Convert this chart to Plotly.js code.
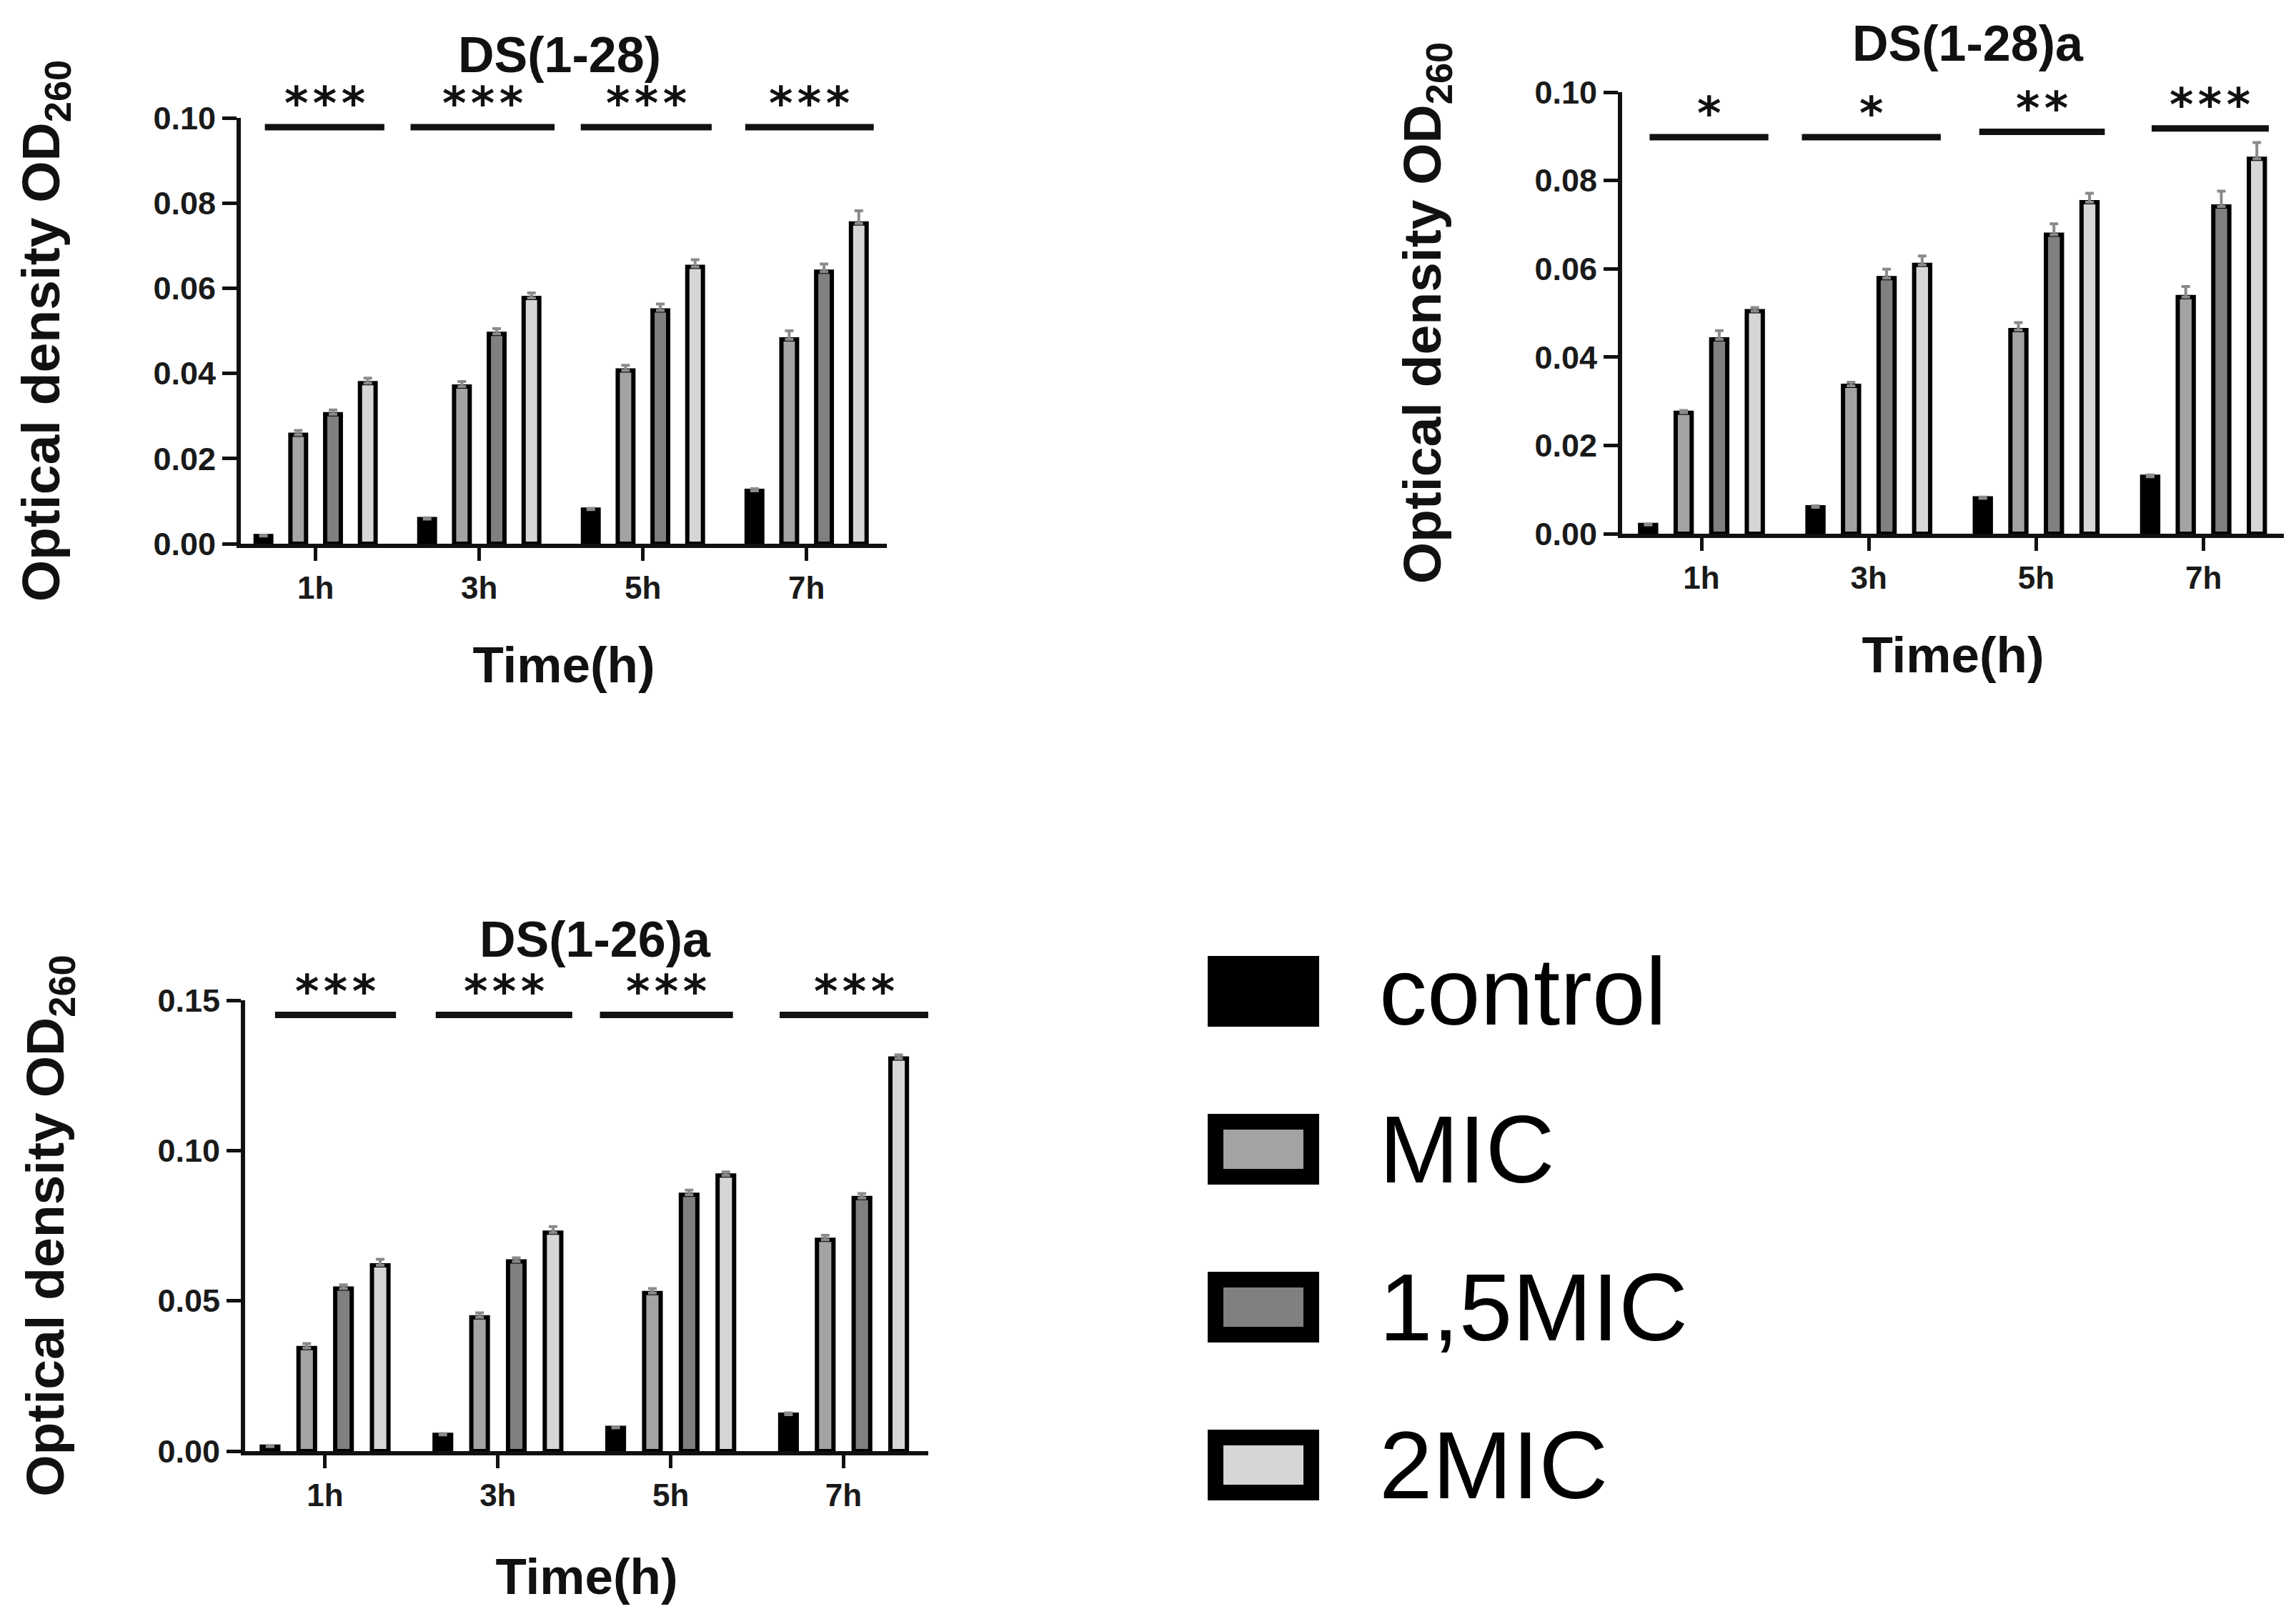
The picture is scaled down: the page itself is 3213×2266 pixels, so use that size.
<!DOCTYPE html>
<html>
<head>
<meta charset="utf-8">
<script src="https://cdn.plot.ly/plotly-3.0.1.min.js"></script>
<style>
html,body{margin:0;padding:0;background:#ffffff;}
#chart{width:3213px;height:2266px;}
</style>
</head>
<body>
<div id="chart"></div>
<script>
// ---------- data ----------
const timeLabels = ['1h', '3h', '5h', '7h'];
const seriesNames = ['control', 'MIC', '1,5MIC', '2MIC'];
const panelTitles = ['DS(1-28)', 'DS(1-28)a', 'DS(1-26)a'];

// DS(1-28)
const ds128Control = [0.0018, 0.0058, 0.0080, 0.0124];
const ds128Mic     = [0.0256, 0.0369, 0.0407, 0.0480];
const ds128Mic15   = [0.0304, 0.0493, 0.0548, 0.0639];
const ds128Mic2    = [0.0377, 0.0577, 0.0650, 0.0752];
const ds128ErrControl = [0.0002, 0.0003, 0.0003, 0.0005];
const ds128ErrMic     = [0.0010, 0.0012, 0.0012, 0.0020];
const ds128ErrMic15   = [0.0010, 0.0012, 0.0015, 0.0018];
const ds128ErrMic2    = [0.0012, 0.0012, 0.0017, 0.0030];
const ds128Sig = ['***', '***', '***', '***'];
const ds128SigY = [0.0978, 0.0978, 0.0978, 0.0978];
const ds128SigFrom = [-0.31, -0.42, -0.38, -0.375];
const ds128SigTo   = [0.42, 0.46, 0.42, 0.41];

// DS(1-28)a
const ds128aControl = [0.0020, 0.0060, 0.0080, 0.0129];
const ds128aMic     = [0.0274, 0.0335, 0.0461, 0.0536];
const ds128aMic15   = [0.0440, 0.0579, 0.0677, 0.0741];
const ds128aMic2    = [0.0504, 0.0609, 0.0751, 0.0849];
const ds128aErrControl = [0.0002, 0.0003, 0.0003, 0.0004];
const ds128aErrMic     = [0.0005, 0.0008, 0.0017, 0.0024];
const ds128aErrMic15   = [0.0020, 0.0020, 0.0025, 0.0035];
const ds128aErrMic2    = [0.0008, 0.0020, 0.0020, 0.0037];
const ds128aSig = ['*', '*', '**', '***'];
const ds128aSigY = [0.0898, 0.0898, 0.0910, 0.0918];
const ds128aSigFrom = [-0.31, -0.40, -0.34, -0.31];
const ds128aSigTo   = [0.40, 0.43, 0.41, 0.39];

// DS(1-26)a
const ds126aControl = [0.0015, 0.0054, 0.0077, 0.0121];
const ds126aMic     = [0.0343, 0.0445, 0.0526, 0.0703];
const ds126aMic15   = [0.0541, 0.0631, 0.0853, 0.0842];
const ds126aMic2    = [0.0618, 0.0727, 0.0917, 0.1306];
const ds126aErrControl = [0.0003, 0.0004, 0.0004, 0.0006];
const ds126aErrMic     = [0.0015, 0.0015, 0.0015, 0.0015];
const ds126aErrMic15   = [0.0012, 0.0012, 0.0015, 0.0015];
const ds126aErrMic2    = [0.0020, 0.0020, 0.0012, 0.0012];
const ds126aSig = ['***', '***', '***', '***'];
const ds126aSigY = [0.1451, 0.1451, 0.1451, 0.1451];
const ds126aSigFrom = [-0.29, -0.36, -0.41, -0.37];
const ds126aSigTo   = [0.41, 0.43, 0.36, 0.49];

const ds128Ticks  = [0, 0.02, 0.04, 0.06, 0.08, 0.10];
const ds126aTicks = [0, 0.05, 0.10, 0.15];
const noErr = [0, 0, 0, 0];

// ---------- styling / layout ----------
const W = 3213, H = 2266;
const fillColors = ['#000000', '#a3a3a3', '#808080', '#d6d6d6'];
const FONT = 'Liberation Sans, Arial, Helvetica, sans-serif';
const px = v => v / W;
const py = v => 1 - v / H;
const starText = s => s.split('').join('\u200A');

const panels = [
  { xa: 'x',  ya: 'y',  vals: [ds128Control, ds128Mic, ds128Mic15, ds128Mic2],
    errs: [ds128ErrControl, ds128ErrMic, ds128ErrMic15, ds128ErrMic2],
    sig: ds128Sig, sigY: ds128SigY, sigFrom: ds128SigFrom, sigTo: ds128SigTo,
    xdom: [337, 1241], ydom: [165, 761], xr: [-0.457, 3.49], yr: [0, 0.10], ticks: ds128Ticks,
    xStandoff: 62, titleX: 783, titleY: 77 },
  { xa: 'x2', ya: 'y2', vals: [ds128aControl, ds128aMic, ds128aMic15, ds128aMic2],
    errs: [ds128aErrControl, ds128aErrMic, ds128aErrMic15, ds128aErrMic2],
    sig: ds128aSig, sigY: ds128aSigY, sigFrom: ds128aSigFrom, sigTo: ds128aSigTo,
    xdom: [2270, 3196], ydom: [129, 747], xr: [-0.474, 3.48], yr: [0, 0.10], ticks: ds128Ticks,
    xStandoff: 62, titleX: 2754, titleY: 61 },
  { xa: 'x3', ya: 'y3', vals: [ds126aControl, ds126aMic, ds126aMic15, ds126aMic2],
    errs: [ds126aErrControl, ds126aErrMic, ds126aErrMic15, ds126aErrMic2],
    sig: ds126aSig, sigY: ds126aSigY, sigFrom: ds126aSigFrom, sigTo: ds126aSigTo,
    xdom: [343, 1299], ydom: [1400, 2031], xr: [-0.463, 3.49], yr: [0, 0.15], ticks: ds126aTicks,
    xStandoff: 68, titleX: 833, titleY: 1315 }
];

const traces = [];
const shapes = [];
const annotations = [];
const layout = {
  width: W, height: H,
  margin: { l: 0, r: 0, t: 0, b: 0, pad: 0 },
  paper_bgcolor: '#ffffff', plot_bgcolor: 'rgba(0,0,0,0)',
  showlegend: false,
  barmode: 'group', bargap: 0.15, bargroupgap: 0.55,
  font: { family: FONT, color: '#111111' }
};

panels.forEach((p, k) => {
  p.vals.forEach((v, s) => {
    traces.push({
      type: 'bar', name: seriesNames[s], x: timeLabels, y: v,
      xaxis: p.xa, yaxis: p.ya,
      marker: { color: fillColors[s], line: { color: '#000000', width: 6 } },
      error_y: { type: 'data', symmetric: false, array: p.errs[s], arrayminus: noErr,
                 color: '#8a8a8a', thickness: 4, width: 6 },
      hoverinfo: 'skip', showlegend: false
    });
  });
  const sfx = k === 0 ? '' : String(k + 1);
  layout['xaxis' + sfx] = {
    domain: [px(p.xdom[0]), px(p.xdom[1])], anchor: p.ya,
    type: 'category', range: p.xr, fixedrange: true,
    showline: true, linewidth: 6, linecolor: '#111111',
    showgrid: false, zeroline: false,
    ticks: 'outside', ticklen: 18, tickwidth: 5, tickcolor: '#111111',
    tickfont: { family: FONT, size: 44, weight: 'bold', color: '#1a1a1a' },
    title: { text: 'Time(h)', standoff: p.xStandoff, font: { family: FONT, size: 71, weight: 'bold', color: '#111111' } }
  };
  layout['yaxis' + sfx] = {
    domain: [py(p.ydom[1]), py(p.ydom[0])], anchor: p.xa,
    range: p.yr, fixedrange: true,
    tickmode: 'array', tickvals: p.ticks, tickformat: '.2f',
    showline: true, linewidth: 6, linecolor: '#111111',
    showgrid: false, zeroline: false,
    ticks: 'outside', ticklen: 20, tickwidth: 5, tickcolor: '#111111',
    tickfont: { family: FONT, size: 45, weight: 'bold', color: '#1a1a1a' },
    title: { text: 'Optical density OD<sub>260</sub>', standoff: 108,
             font: { family: FONT, size: 75, weight: 'bold', color: '#111111' } }
  };
  // significance bars + stars
  p.sig.forEach((txt, i) => {
    shapes.push({ type: 'line', xref: p.xa, yref: p.ya,
      x0: i + p.sigFrom[i], x1: i + p.sigTo[i], y0: p.sigY[i], y1: p.sigY[i],
      line: { color: '#111111', width: 9 } });
    annotations.push({ xref: p.xa, yref: p.ya, x: i + (p.sigFrom[i] + p.sigTo[i]) / 2,
      y: p.sigY[i], text: starText(txt), showarrow: false,
      xanchor: 'center', yanchor: 'middle', yshift: 33,
      font: { family: 'DejaVu Sans, sans-serif', size: 64, weight: 'bold', color: '#111111' } });
  });
  // panel title
  annotations.push({ xref: 'paper', yref: 'paper', x: px(p.titleX), y: py(p.titleY),
    text: panelTitles[k], showarrow: false, xanchor: 'center', yanchor: 'middle',
    font: { family: FONT, size: 70, weight: 'bold', color: '#111111' } });
});

// custom legend (large boxes with thick borders)
const legBoxX = [1690, 1846], legTop0 = 1338, legStep = 221, legH = 99, legBorder = 22;
seriesNames.forEach((nm, s) => {
  const top = legTop0 + s * legStep;
  shapes.push({ type: 'rect', xref: 'paper', yref: 'paper',
    x0: px(legBoxX[0] + legBorder / 2), x1: px(legBoxX[1] - legBorder / 2),
    y0: py(top + legBorder / 2), y1: py(top + legH - legBorder / 2),
    fillcolor: fillColors[s], line: { color: '#000000', width: legBorder } });
  annotations.push({ xref: 'paper', yref: 'paper', x: px(1928), y: py(top + legH / 2),
    text: nm, showarrow: false, xanchor: 'left', yanchor: 'middle',
    font: { family: FONT, size: 134, color: '#000000' } });
});

layout.shapes = shapes;
layout.annotations = annotations;

Plotly.newPlot('chart', traces, layout, { displayModeBar: false, staticPlot: true });
</script>
</body>
</html>
